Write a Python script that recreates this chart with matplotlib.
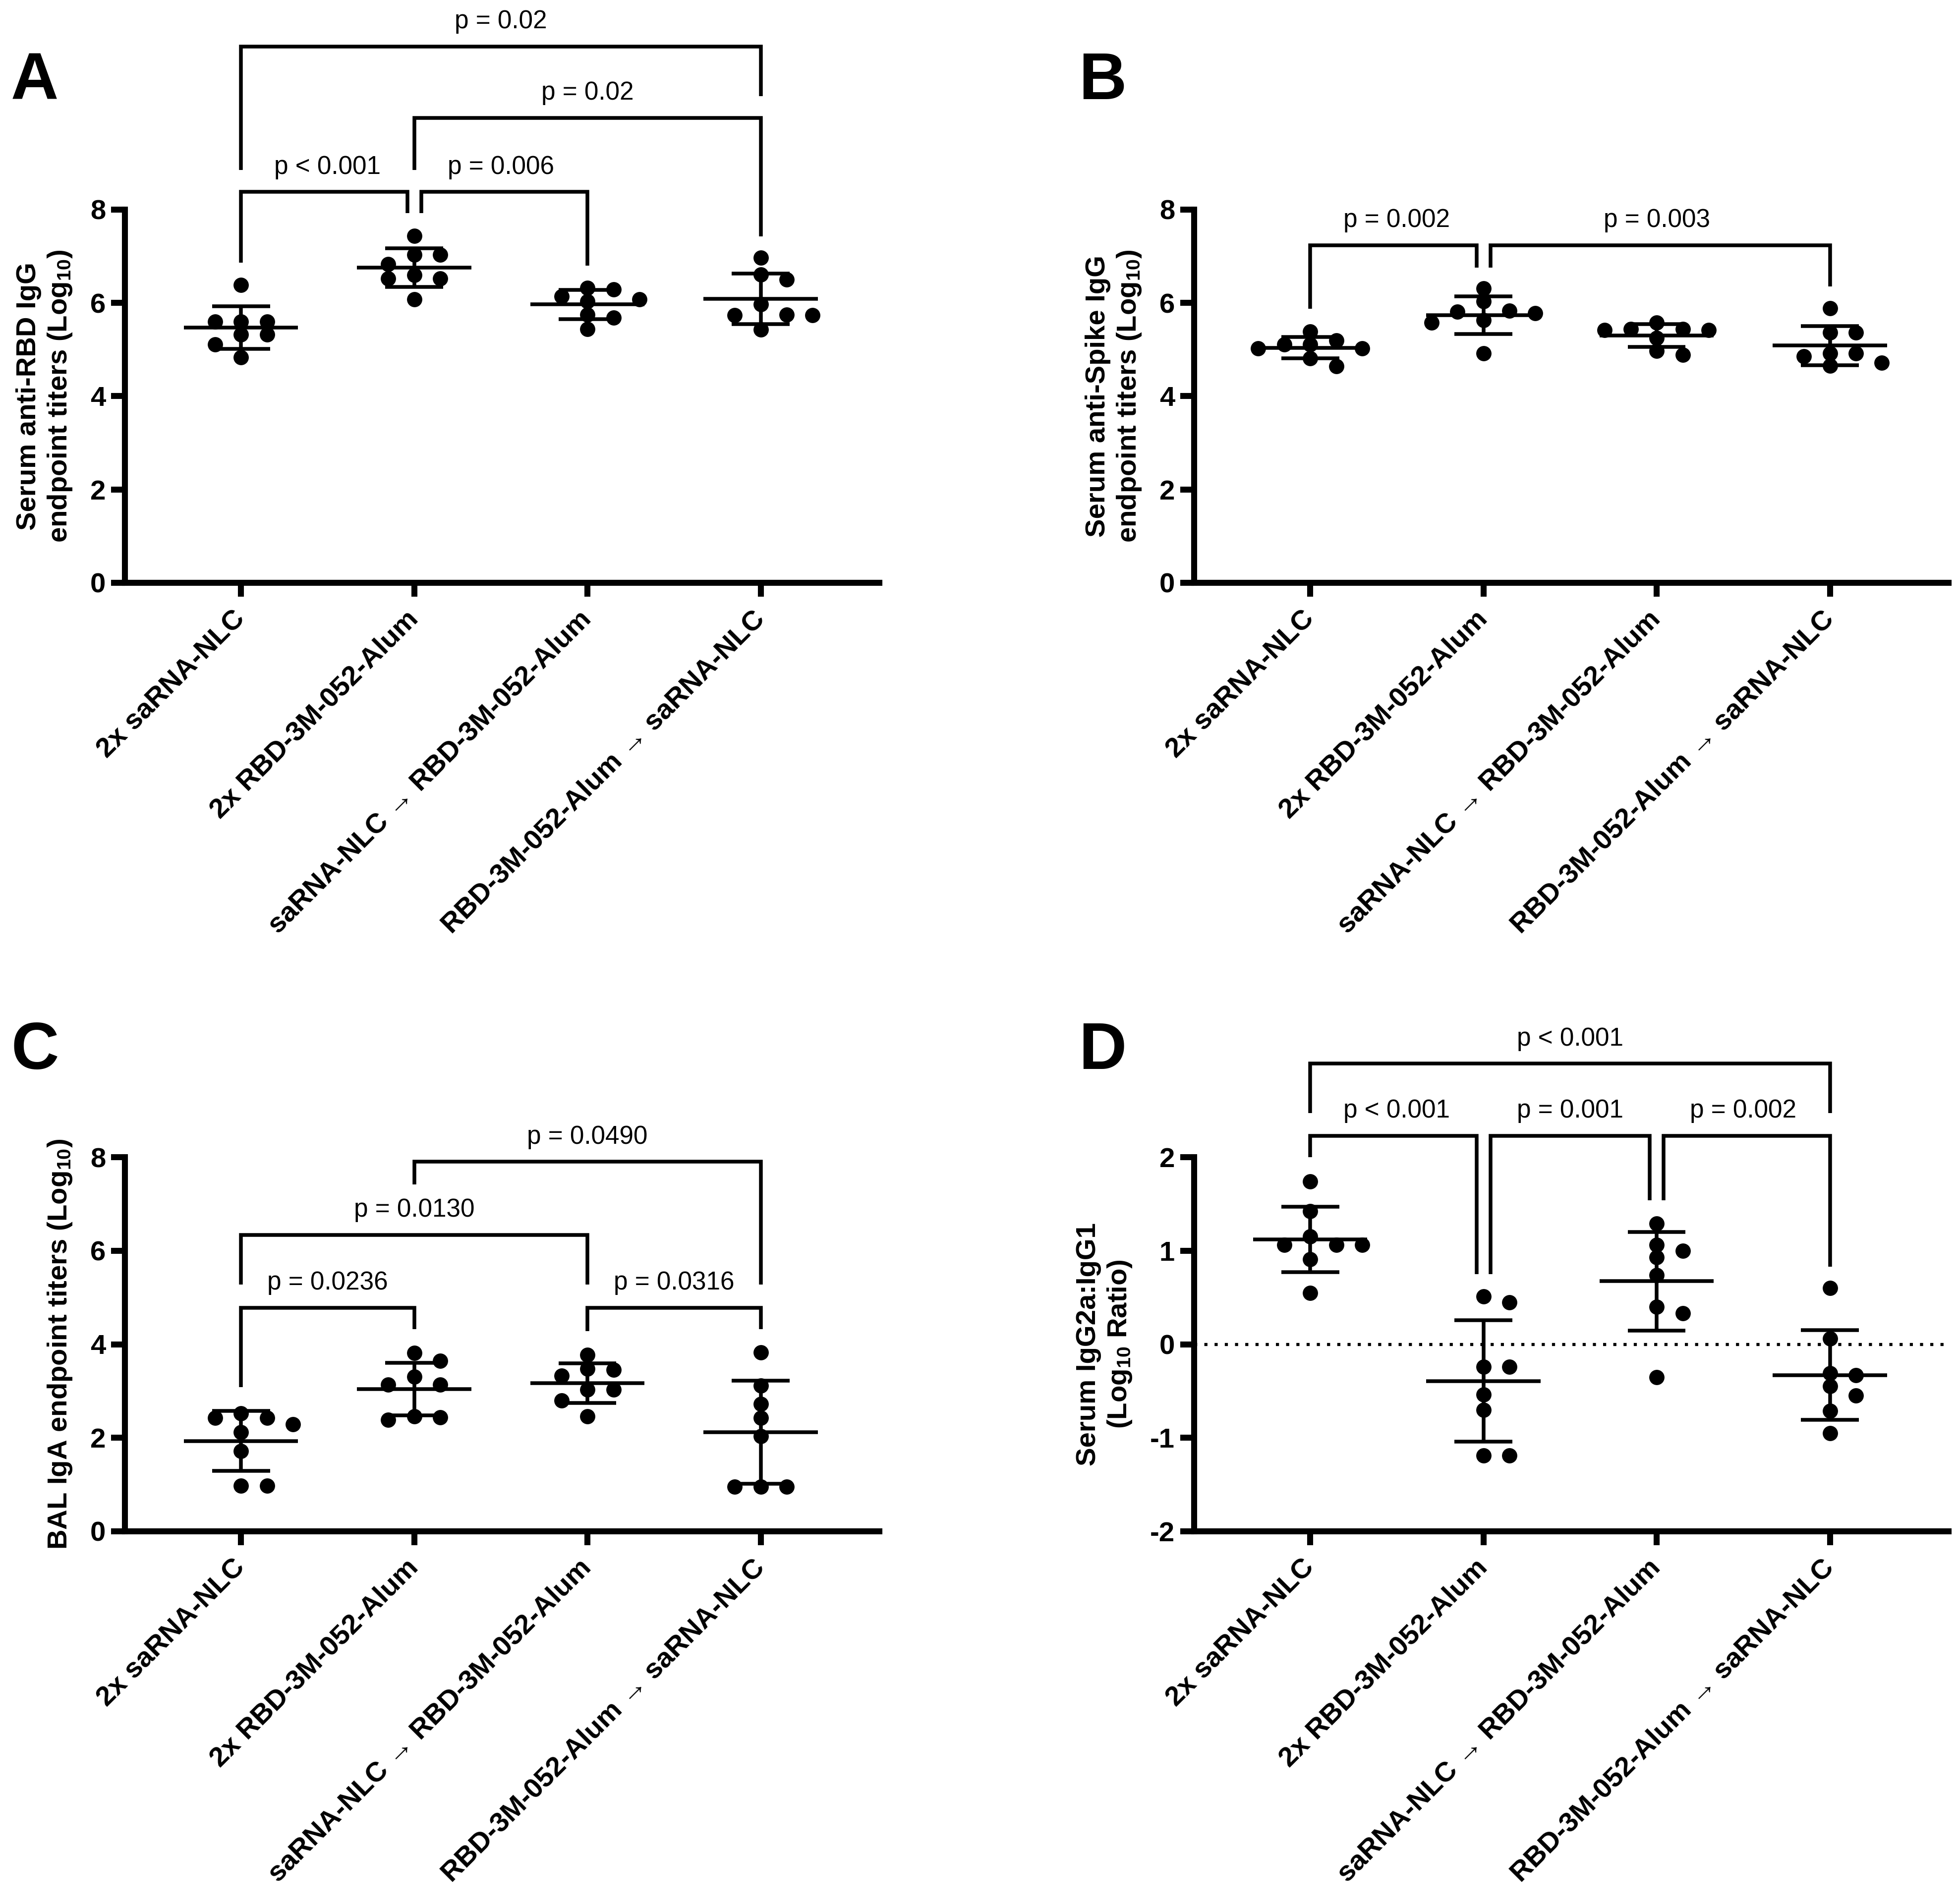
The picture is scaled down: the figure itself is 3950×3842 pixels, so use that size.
import numpy as np
import matplotlib
matplotlib.use('Agg')
import matplotlib.pyplot as plt

plt.rcParams['font.family'] = ['Liberation Sans', 'DejaVu Sans']
plt.rcParams['mathtext.default'] = 'regular'

groups = ['2x saRNA-NLC', '2x RBD-3M-052-Alum',
          'saRNA-NLC \u2192 RBD-3M-052-Alum', 'RBD-3M-052-Alum \u2192 saRNA-NLC']

# log10 values, 8 animals per group
rbd_igg = [
    [6.38, 5.60, 5.60, 5.60, 5.32, 5.32, 5.11, 4.83],
    [7.44, 7.03, 7.03, 6.83, 6.60, 6.52, 6.52, 6.08],
    [6.32, 6.29, 6.14, 6.08, 6.03, 5.75, 5.68, 5.44],
    [6.97, 6.61, 6.50, 5.97, 5.75, 5.74, 5.74, 5.43],
]
spike_igg = [
    [5.39, 5.19, 5.11, 5.11, 5.03, 5.03, 4.81, 4.64],
    [6.31, 6.03, 5.83, 5.81, 5.78, 5.63, 5.58, 4.92],
    [5.58, 5.44, 5.44, 5.42, 5.42, 5.25, 4.97, 4.89],
    [5.89, 5.36, 5.36, 4.92, 4.92, 4.86, 4.72, 4.65],
]
bal_iga = [
    [2.52, 2.43, 2.43, 2.29, 2.12, 1.72, 0.98, 0.98],
    [3.81, 3.65, 3.31, 3.14, 3.14, 2.46, 2.44, 2.38],
    [3.77, 3.48, 3.45, 3.33, 3.03, 3.03, 2.80, 2.46],
    [3.82, 3.11, 2.72, 2.43, 2.03, 0.95, 0.95, 0.95],
]
igg_ratio = [
    [1.74, 1.42, 1.15, 1.06, 1.06, 1.06, 0.91, 0.55],
    [0.51, 0.45, -0.24, -0.24, -0.54, -0.70, -1.19, -1.19],
    [1.29, 1.06, 1.00, 0.93, 0.74, 0.40, 0.33, -0.35],
    [0.60, 0.06, -0.31, -0.33, -0.45, -0.55, -0.71, -0.95],
]

# comparisons: (group a, group b, bar height, left leg end, right leg end, label)
rbd_pvals = [
    (0, 1, 8.38, 6.86, 7.93, 'p < 0.001'),
    (1, 2, 8.38, 7.93, 6.80, 'p = 0.006'),
    (1, 3, 9.97, 8.85, 7.43, 'p = 0.02'),
    (0, 3, 11.50, 8.85, 10.43, 'p = 0.02'),
]
spike_pvals = [
    (0, 1, 7.24, 5.88, 6.76, 'p = 0.002'),
    (1, 3, 7.24, 6.76, 6.35, 'p = 0.003'),
]
bal_pvals = [
    (0, 1, 4.78, 3.08, 4.32, 'p = 0.0236'),
    (2, 3, 4.78, 4.28, 4.32, 'p = 0.0316'),
    (0, 2, 6.34, 5.28, 5.28, 'p = 0.0130'),
    (1, 3, 7.90, 7.42, 5.28, 'p = 0.0490'),
]
ratio_pvals = [
    (0, 1, 2.23, 2.00, 0.75, 'p < 0.001'),
    (1, 2, 2.23, 0.75, 1.54, 'p = 0.001'),
    (2, 3, 2.23, 1.54, 0.83, 'p = 0.002'),
    (0, 3, 3.00, 2.47, 2.47, 'p < 0.001'),
]

W, H, DPI = 3950, 3842, 300
fig = plt.figure(figsize=(W / DPI, H / DPI), dpi=DPI)

LW_AX = 2.9
LW = 1.8
BOLD = 13.5


def swarm_x(ax, vals, center, step=0.15, min_px=24):
    # simple beeswarm: put each point in the nearest free column
    placed = []
    xs = np.zeros(len(vals))
    for k in np.argsort(vals)[::-1]:
        for n in [0, 1, -1, 2, -2, 3, -3]:
            x = center + n * step
            p = ax.transData.transform((x, vals[k]))
            if all(np.hypot(*(p - q)) >= min_px for q in placed):
                break
        placed.append(p)
        xs[k] = x
    return xs


def panel(rect, data, pvals, ylim, yticks, ylabel, letter, letter_xy, zero_line=False):
    ax = fig.add_axes(rect)
    ax.set_xlim(-0.67, 3.685)
    ax.set_ylim(*ylim)
    for s in ['top', 'right']:
        ax.spines[s].set_visible(False)
    for s in ['left', 'bottom']:
        ax.spines[s].set_linewidth(LW_AX)
    ax.tick_params(axis='both', width=LW_AX, length=6.7)
    ax.tick_params(axis='y', pad=2.6)
    ax.tick_params(axis='x', pad=9)
    ax.set_yticks(yticks)
    ax.set_yticklabels([str(t) for t in yticks], fontsize=BOLD, fontweight='bold')
    ax.set_xticks(range(len(groups)))
    ax.set_xticklabels(groups, rotation=45, ha='right', va='center',
                       rotation_mode='anchor', fontsize=BOLD, fontweight='bold')
    ax.set_ylabel(ylabel, fontsize=BOLD, fontweight='bold', labelpad=8)

    if zero_line:
        ax.axhline(0, color='k', lw=1.5, ls=(0, (1, 2.3)), zorder=1)

    for i, vals in enumerate(data):
        vals = np.array(vals)
        m = vals.mean()
        sd = vals.std(ddof=1)
        ax.hlines(m, i - 0.33, i + 0.33, color='k', lw=LW, zorder=2)
        ax.vlines(i, m - sd, m + sd, color='k', lw=LW, zorder=2)
        ax.hlines([m - sd, m + sd], i - 0.167, i + 0.167, color='k', lw=LW, zorder=2)
        xs = swarm_x(ax, vals, i)
        ax.plot(xs, vals, 'o', color='k', ms=7.4, mew=0, zorder=3, clip_on=False)

    for a, b, bar, ya, yb, label in pvals:
        xa, xb = a, b
        for a2, b2, bar2, *_ in pvals:
            if bar2 == bar and b2 == a:
                xa = a + 0.04
            if bar2 == bar and a2 == b:
                xb = b - 0.04
        ax.plot([xa, xa, xb, xb], [ya, bar, bar, yb], color='k', lw=LW,
                clip_on=False, solid_joinstyle='miter', solid_capstyle='butt')
        ax.annotate(label, xy=((a + b) / 2, bar), xytext=(0, 12),
                    textcoords='offset points', ha='center', va='center',
                    fontsize=12.3, annotation_clip=False)

    fig.text(letter_xy[0] / W, 1 - letter_xy[1] / H, letter, fontsize=32,
             fontweight='bold', ha='left', va='baseline')
    return ax


left1, left2, wid = 252 / W, 2409 / W, 1522 / W
top_b, top_h = 1 - 1176 / H, 753 / H
bot_b, bot_h = 1 - 3090 / H, 755 / H

panel([left1, top_b, wid, top_h], rbd_igg, rbd_pvals, (0, 8), [0, 2, 4, 6, 8],
      'Serum anti-RBD IgG\nendpoint titers (Log$_{10}$)', 'A', (22, 200))
panel([left2, top_b, wid, top_h], spike_igg, spike_pvals, (0, 8), [0, 2, 4, 6, 8],
      'Serum anti-Spike IgG\nendpoint titers (Log$_{10}$)', 'B', (2176, 200))
panel([left1, bot_b, wid, bot_h], bal_iga, bal_pvals, (0, 8), [0, 2, 4, 6, 8],
      'BAL IgA endpoint titers (Log$_{10}$)', 'C', (22, 2157))
panel([left2, bot_b, wid, bot_h], igg_ratio, ratio_pvals, (-2, 2), [-2, -1, 0, 1, 2],
      'Serum IgG2a:IgG1\n(Log$_{10}$ Ratio)', 'D', (2176, 2157), zero_line=True)

fig.savefig('out.png', dpi=DPI)
